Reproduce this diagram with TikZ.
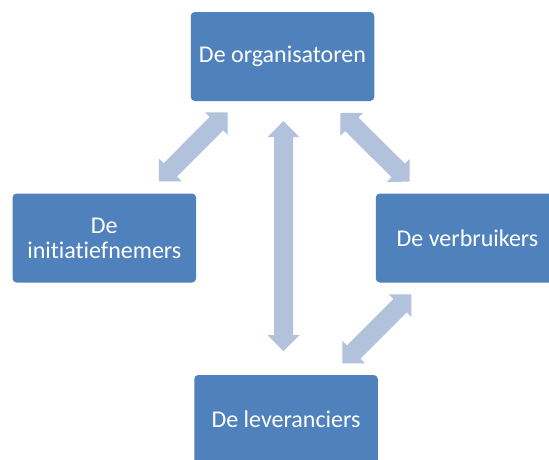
\documentclass[tikz,border=0pt]{standalone}
\usepackage{fontspec}
\setmainfont{Carlito}[Ligatures=CommonOff]
\usetikzlibrary{calc}
\definecolor{boxblue}{HTML}{4F81BD}
\definecolor{arrowblue}{HTML}{B3C2DC}
\newcommand{\hlen}{16pt}
\newcommand{\hwid}{16pt}
\newcommand{\swid}{9.5pt}
\newcommand{\dblarrow}[2]{%
  \fill[arrowblue] (#1)
    -- ($(#1)!\hlen!(#2)!\hwid!90:(#2)$)
    -- ($(#1)!\hlen!(#2)!\swid!90:(#2)$)
    -- ($(#2)!\hlen!(#1)!\swid!-90:(#1)$)
    -- ($(#2)!\hlen!(#1)!\hwid!-90:(#1)$)
    -- (#2)
    -- ($(#2)!\hlen!(#1)!\hwid!90:(#1)$)
    -- ($(#2)!\hlen!(#1)!\swid!90:(#1)$)
    -- ($(#1)!\hlen!(#2)!\swid!-90:(#2)$)
    -- ($(#1)!\hlen!(#2)!\hwid!-90:(#2)$)
    -- cycle;}
\tikzset{
  actor/.style={rectangle, rounded corners=4pt, fill=boxblue, draw=none,
    minimum width=183.5pt, minimum height=89pt, text=white, align=center,
    inner sep=2pt, font=\fontsize{24}{25}\selectfont}
}
\begin{document}
\begin{tikzpicture}[x=1pt,y=-1pt]
\useasboundingbox (0,0) rectangle (549,459);
\clip (0,0) rectangle (549,459);
\node[actor] (org) at (282.5,56.5) {De organisatoren};
\node[actor] (ini) at (104.3,238) {De\\initiatiefnemers};
\node[actor] (ver) at (467.5,238) {De verbruikers};
\node[actor] (lev) at (286,419.5) {De leveranciers};
\coordinate (a1s) at (227.7,112.3);
\coordinate (a1e) at (159,181.3);
\coordinate (a2s) at (340.3,113);
\coordinate (a2e) at (409.7,181.7);
\coordinate (a3s) at (411.4,294.3);
\coordinate (a3e) at (342.4,363.3);
\coordinate (a4s) at (283.5,121);
\coordinate (a4e) at (283.5,351);
\dblarrow{a1s}{a1e}
\dblarrow{a2s}{a2e}
\dblarrow{a3s}{a3e}
\dblarrow{a4s}{a4e}
\end{tikzpicture}
\end{document}
